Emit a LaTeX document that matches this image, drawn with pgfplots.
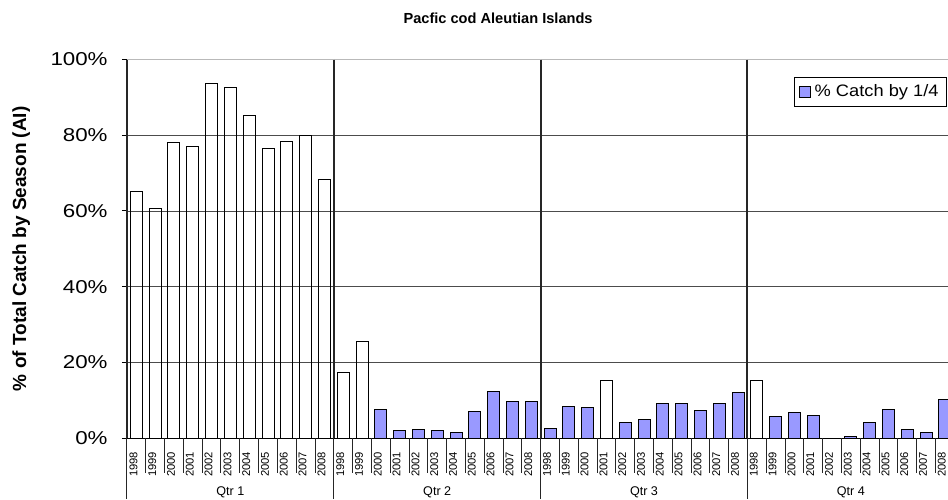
\documentclass[border=0pt]{standalone}
\usepackage{pgfplots}
\pgfplotsset{compat=1.18}
\usepackage{fontspec}
\setmainfont{Liberation Sans}
\newfontfamily\tickfont[FakeStretch=1.2]{Liberation Sans}
\newfontfamily\legfont[FakeStretch=1.1]{Liberation Sans}
\definecolor{catchblue}{HTML}{9999FF}

\begin{document}
\begin{tikzpicture}
\begin{axis}[
    scale only axis,
    width=410.5pt, height=189.25pt,
    xmin=-0.5, xmax=43.17,
    ymin=0, ymax=100,
    clip=false,
    axis lines*=left,
    x axis line style={line width=0.5pt, black},
    y axis line style={line width=1pt, black!85},
    ybar, bar width=6pt,
    % ticks
    ytick={0,20,40,60,80,100},
    yticklabels={0\%,20\%,40\%,60\%,80\%,100\%},
    yticklabel style={font=\tickfont\fontsize{9.3}{10}\selectfont, anchor=east, inner sep=0pt, xshift=-7pt},
    tick align=outside, major tick length=2.5pt,
    ytick style={black, line width=0.5pt},
    xtick={0,...,43},
    xticklabels={1998,1999,2000,2001,2002,2003,2004,2005,2006,2007,2008,
                 1998,1999,2000,2001,2002,2003,2004,2005,2006,2007,2008,
                 1998,1999,2000,2001,2002,2003,2004,2005,2006,2007,2008,
                 1998,1999,2000,2001,2002,2003,2004,2005,2006,2007,2008},
    xtick style={draw=none},
    xticklabel style={font=\fontsize{5.6}{6}\selectfont, xshift=-1.5pt, yshift=-4.2pt, rotate=90, anchor=east, inner sep=0pt},
    ymajorgrids,
    major grid style={black!70, line width=0.4pt},
    % labels
    title={Pacfic cod Aleutian Islands},
    title style={font=\bfseries\fontsize{7.3}{8}\selectfont, at={(0.452,1)}, anchor=base, yshift=12pt},
    ylabel={\% of Total Catch by Season (AI)},
    ylabel style={font=\bfseries\fontsize{9.5}{10}\selectfont, at={(axis description cs:-0.129,0.5)}, anchor=center},
    legend style={at={(axis description cs:0.9988,0.954)}, anchor=north east,
        draw=black, line width=0.5pt, inner xsep=2pt, inner ysep=1.5pt,
        font=\legfont\fontsize{8.3}{9}\selectfont},
    legend image code/.code={\draw[#1, line width=0.5pt] (0pt,-2.6pt) rectangle (5.5pt,2.6pt);},
]
% blue series: % catch by 1/4
\addplot[bar shift=0pt, fill=catchblue, draw=black, line width=0.5pt] coordinates {
    (13,7.4) (14,2.0) (15,2.3) (16,2.0) (17,1.5) (18,7.1) (19,12.2) (20,9.7) (21,9.7)
    (22,2.55) (23,8.45) (24,8.0) (26,4.1) (27,4.9) (28,9.2) (29,9.0) (30,7.2) (31,9.2) (32,12.1)
    (34,5.6) (35,6.7) (36,5.9) (38,0.45) (39,4.1) (40,7.4) (41,2.3) (42,1.5) (43,10.2)
};
\addlegendentry{\% Catch by 1/4}
% open bars
\addplot[bar shift=0pt, fill=none, draw=black, line width=0.5pt, forget plot] coordinates {
    (0,65.1) (1,60.6) (2,78.1) (3,77.1) (4,93.7) (5,92.7) (6,85.3) (7,76.6) (8,78.4) (9,80.0) (10,68.2)
    (11,17.2) (12,25.4) (25,15.1) (33,15.3)
};

% top border
\draw[gray!55, line width=0.7pt] (axis cs:-0.5,100) -- (axis cs:43.17,100);
% quarter separators
\pgfplotsinvokeforeach{10.5,21.5,32.5}{
    \draw[black!85, line width=1pt] (axis cs:#1,100) -- (axis cs:#1,0);
    \draw[black!85, line width=0.5pt] (axis cs:#1,0) -- ++(0pt,-30.5pt);
}
% year separators
\pgfplotsinvokeforeach{0.5,1.5,...,42.5}{
    \draw[black!85, line width=0.5pt] (axis cs:#1,0) -- ++(0pt,-17.5pt);
}
\draw[black!85, line width=0.5pt] (axis cs:-0.5,0) -- ++(0pt,-30.5pt);
% quarter labels
\node[font=\fontsize{6.3}{7}\selectfont, anchor=base, yshift=-28.6pt] at (axis cs:5,0) {Qtr 1};
\node[font=\fontsize{6.3}{7}\selectfont, anchor=base, yshift=-28.6pt] at (axis cs:16,0) {Qtr 2};
\node[font=\fontsize{6.3}{7}\selectfont, anchor=base, yshift=-28.6pt] at (axis cs:27,0) {Qtr 3};
\node[font=\fontsize{6.3}{7}\selectfont, anchor=base, yshift=-28.6pt] at (axis cs:38,0) {Qtr 4};
\coordinate (O) at (rel axis cs:0,0);
\end{axis}
\pgfresetboundingbox
\path (O) ++(-63.5pt,-30.5pt) rectangle ++(474pt,249.5pt);
\end{tikzpicture}
\end{document}
